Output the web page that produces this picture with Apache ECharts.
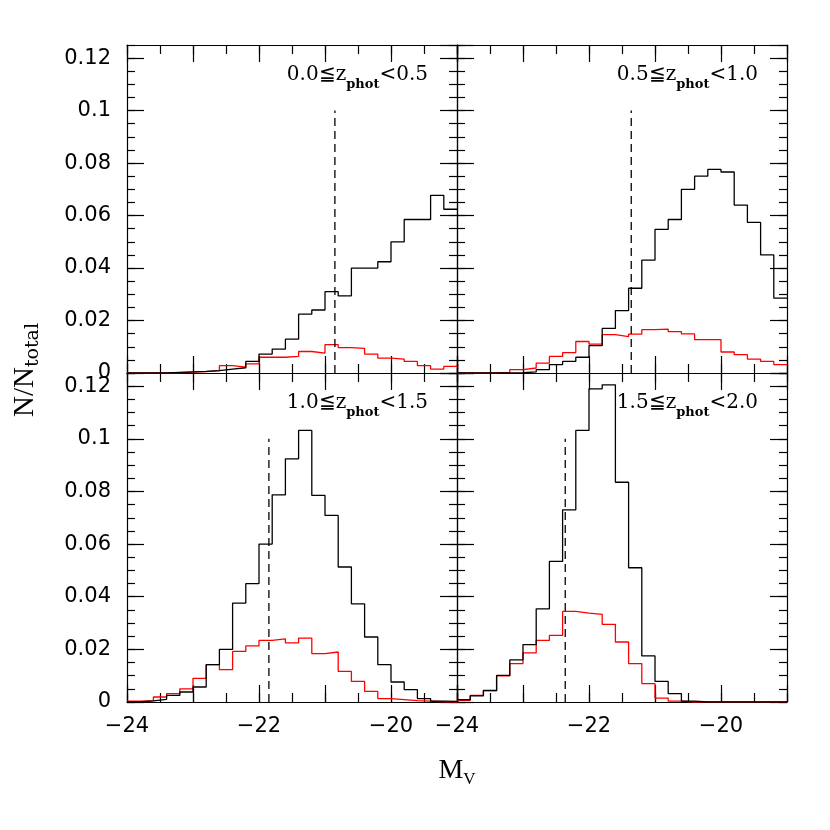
<!DOCTYPE html>
<html>
<head>
<meta charset="utf-8">
<script src="https://cdn.jsdelivr.net/npm/echarts@6/dist/echarts.min.js"></script>
<style>html,body{margin:0;padding:0;background:#fff}#main{width:830px;height:830px}</style>
</head>
<body>
<div id="main"></div>
<script>
// 0.2 mag bins in M_V
const binEdges = [-24, -23.8, -23.6, -23.4, -23.2, -23, -22.8, -22.6, -22.4, -22.2, -22, -21.8, -21.6,
  -21.4, -21.2, -21, -20.8, -20.6, -20.4, -20.2, -20, -19.8, -19.6, -19.4, -19.2, -19];

const zLow = ['0.0', '0.5', '1.0', '1.5'];
const zHigh = ['0.5', '1.0', '1.5', '2.0'];

// black = all, red = subsample (N/Ntotal per bin)
const black1 = [0, 0, 0, 0.0002, 0.0004, 0.0006, 0.0009, 0.0015, 0.002, 0.0044, 0.0072, 0.0091, 0.0129,
  0.0224, 0.024, 0.031, 0.0294, 0.040, 0.040, 0.0424, 0.050, 0.0585, 0.0585, 0.0677, 0.0624];
const red1 = [0, 0, 0, 0.0001, 0.0003, 0.0005, 0.0009, 0.0028, 0.0022, 0.0035, 0.006, 0.006, 0.0063,
  0.0082, 0.0076, 0.0108, 0.0097, 0.0094, 0.0072, 0.0057, 0.0053, 0.0044, 0.0028, 0.0015, 0.0025];
const black2 = [0, 0, 0, 0, 0.0001, 0.0004, 0.0013, 0.0032, 0.0044, 0.006, 0.0104, 0.017, 0.0238,
  0.0323, 0.043, 0.0547, 0.0585, 0.070, 0.075, 0.0776, 0.0766, 0.064, 0.0574, 0.045, 0.0285];
const red2 = [0, 0, 0, 0.0002, 0.0013, 0.0019, 0.0038, 0.0063, 0.0078, 0.012, 0.011, 0.0146, 0.0139,
  0.0148, 0.0165, 0.0167, 0.0158, 0.0149, 0.0127, 0.0127, 0.008, 0.007, 0.0053, 0.0044, 0.0032];
const black3 = [0, 0.0004, 0.001, 0.0025, 0.0038, 0.0057, 0.0142, 0.020, 0.0376, 0.045, 0.060, 0.0787,
  0.0924, 0.1032, 0.0785, 0.0709, 0.0513, 0.0373, 0.0247, 0.0142, 0.0076, 0.0047, 0.0013, 0.0003, 0.0002];
const red3 = [0.0003, 0.0005, 0.0019, 0.0032, 0.005, 0.009, 0.0142, 0.0123, 0.0192, 0.0213, 0.0234, 0.024,
  0.0225, 0.0243, 0.0184, 0.019, 0.0116, 0.0078, 0.004, 0.0013, 0.0009, 0.0005, 0.0003, 0.0001, 0];
const black4 = [0.0009, 0.0023, 0.0044, 0.0101, 0.016, 0.0218, 0.0354, 0.0534, 0.073, 0.1032, 0.119,
  0.1205, 0.0835, 0.051, 0.0175, 0.0078, 0.0032, 0.0003, 0, 0, 0, 0, 0, 0, 0];
const red4 = [0.0006, 0.0025, 0.0042, 0.0099, 0.0146, 0.0187, 0.0234, 0.0253, 0.0344, 0.0338, 0.0333,
  0.0295, 0.0228, 0.0146, 0.007, 0.0015, 0.0003, 0, 0, 0, 0, 0, 0, 0, 0];

// median-ish cut shown by the dashed lines
const dashX = [-20.85, -21.36, -21.85, -22.36];
const dashTop = 0.1;

const blacks = [black1, black2, black3, black4];
const reds = [red1, red2, red3, red4];

const chart = echarts.init(document.getElementById('main'));

const frames = [
  { left: 127, top: 45, width: 330, height: 328 },
  { left: 457, top: 45, width: 330, height: 328 },
  { left: 127, top: 373, width: 330, height: 329 },
  { left: 457, top: 373, width: 330, height: 329 }
];

const lineCol = { color: '#000', width: 1.2 };
const tickFont = { fontFamily: 'DejaVu Sans', fontSize: 21, color: '#000' };

// histogram -> step points (left edges, plus closing right edge)
const toSteps = vals => {
  const pts = vals.map((v, k) => [binEdges[k], v]);
  pts.push([binEdges[binEdges.length - 1], vals[vals.length - 1]]);
  return pts;
};

const xAx = (grid, pos, major, showLabel) => ({
  type: 'value', gridIndex: grid, position: pos, min: -24, max: -19,
  interval: major ? 1 : 0.5,
  axisLine: { show: major, onZero: false, lineStyle: lineCol },
  axisTick: { show: true, inside: true, length: major ? 17 : 9, lineStyle: lineCol },
  axisLabel: {
    show: showLabel, margin: 14, ...tickFont,
    formatter: v => (v % 2 === 0 ? '\u2212' + Math.abs(v) : '')
  },
  splitLine: { show: false }
});

const yAx = (grid, pos, major, showLabel) => ({
  type: 'value', gridIndex: grid, position: pos, min: 0, max: 0.125,
  interval: major ? 0.02 : 0.005,
  axisLine: { show: major, onZero: false, lineStyle: lineCol },
  axisTick: { show: true, inside: true, length: major ? 17 : 8, lineStyle: lineCol },
  axisLabel: {
    show: showLabel, margin: 16, showMaxLabel: false, ...tickFont,
    formatter: v => (v > 0.121 ? '' : String(+v.toFixed(3)))
  },
  splitLine: { show: false }
});

const grid = [], xAxis = [], yAxis = [], series = [], title = [];

frames.forEach((f, i) => {
  grid.push({ ...f });
  const isLeft = i % 2 === 0;
  const isBottom = i >= 2;
  xAxis.push(xAx(i, 'bottom', true, isBottom));
  xAxis.push(xAx(i, 'top', true, false));
  yAxis.push(yAx(i, 'left', true, isLeft));
  yAxis.push(yAx(i, 'right', true, false));
});
// overlay grids carry the minor ticks
frames.forEach((f, i) => {
  grid.push({ ...f });
  xAxis.push(xAx(4 + i, 'bottom', false, false));
  xAxis.push(xAx(4 + i, 'top', false, false));
  yAxis.push(yAx(4 + i, 'left', false, false));
  yAxis.push(yAx(4 + i, 'right', false, false));
});

frames.forEach((f, i) => {
  series.push({
    type: 'line', xAxisIndex: 2 * i, yAxisIndex: 2 * i, step: 'end',
    showSymbol: false, data: toSteps(reds[i]),
    lineStyle: { color: '#ff0000', width: 1.3 }, z: 3
  });
  series.push({
    type: 'line', xAxisIndex: 2 * i, yAxisIndex: 2 * i, step: 'end',
    showSymbol: false, data: toSteps(blacks[i]),
    lineStyle: { color: '#000', width: 1.3 }, z: 4
  });
  series.push({
    type: 'line', xAxisIndex: 2 * i, yAxisIndex: 2 * i,
    showSymbol: false, data: [[dashX[i], 0], [dashX[i], dashTop]],
    lineStyle: { color: '#000', width: 1.3, type: [8, 5] }, z: 5
  });
  title.push({
    text: '{a|' + zLow[i] + '\u2266z}{b|phot}{a|<' + zHigh[i] + '}',
    right: 830 - (f.left + f.width - 29),
    top: f.top + 14,
    padding: 0,
    textStyle: {
      fontWeight: 'normal',
      rich: {
        a: { fontFamily: 'DejaVu Serif', fontSize: 20, fontWeight: 'normal', lineHeight: 32, color: '#000' },
        b: { fontFamily: 'DejaVu Serif', fontSize: 13, fontWeight: 'bold', lineHeight: 13,
             verticalAlign: 'bottom', color: '#000' }
      }
    }
  });
});

chart.setOption({
  animation: false,
  backgroundColor: '#fff',
  title,
  grid,
  xAxis,
  yAxis,
  series,
  graphic: [
    {
      type: 'text', x: 25, y: 370, rotation: Math.PI / 2,
      style: {
        text: '{a|N/N}{b|total}', align: 'center', verticalAlign: 'middle',
        rich: {
          a: { fontFamily: 'Liberation Serif', fontSize: 29, lineHeight: 36, fill: '#000' },
          b: { fontFamily: 'DejaVu Serif', fontSize: 19, lineHeight: 19, verticalAlign: 'bottom', fill: '#000' }
        }
      }
    },
    {
      type: 'text', x: 457, y: 771,
      style: {
        text: '{a|M}{b|V}', align: 'center', verticalAlign: 'middle',
        rich: {
          a: { fontFamily: 'Liberation Serif', fontSize: 28, lineHeight: 34, fill: '#000' },
          b: { fontFamily: 'Liberation Serif', fontSize: 17, lineHeight: 17, verticalAlign: 'bottom', fill: '#000' }
        }
      }
    }
  ]
});
</script>
</body>
</html>
